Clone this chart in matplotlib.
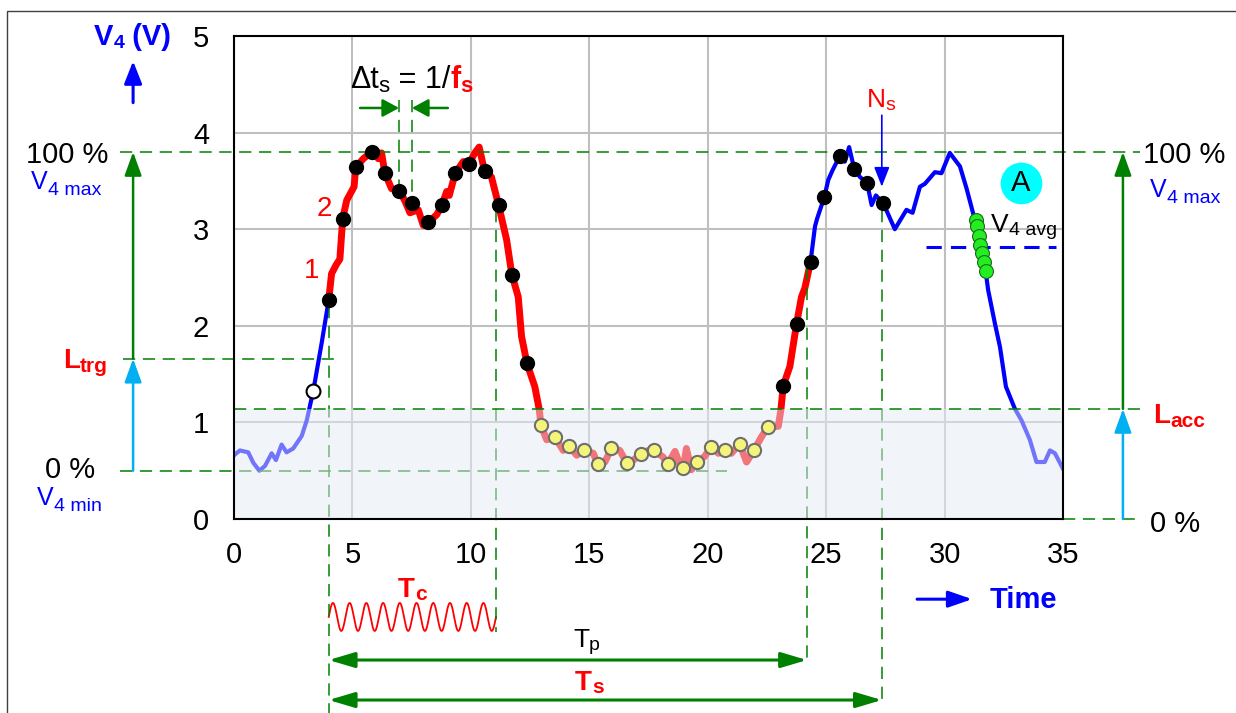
import matplotlib
matplotlib.use('Agg')
import matplotlib.pyplot as plt
import numpy as np
from matplotlib.patches import Rectangle

plt.rcParams['font.family'] = ['Liberation Sans', 'DejaVu Sans']

# signal trace V4 (V) vs time
trace_t = [0.00, 0.25, 0.60, 0.82, 1.07, 1.31, 1.59, 1.77, 2.01, 2.22, 2.50, 2.86, 3.07, 3.17,
           3.35, 3.70, 4.00, 4.12, 4.31, 4.47, 4.59, 4.76, 5.07, 5.14, 5.46, 5.81, 6.02, 6.09,
           6.23, 6.37, 6.65, 6.98, 7.22, 7.43, 7.78, 7.99, 8.20, 8.56, 8.78, 8.98, 9.09, 9.34,
           9.68, 9.92, 10.17, 10.35, 10.58, 10.87, 11.17, 11.51, 11.73, 12.00, 12.14, 12.37,
           12.70, 12.89, 12.96, 13.20, 13.54, 13.90, 14.13, 14.47, 14.79, 15.17, 15.35, 15.66,
           15.93, 16.29, 16.58, 16.86, 17.17, 17.49, 17.73, 18.12, 18.32, 18.62, 18.80, 18.97,
           19.10, 19.31, 19.56, 19.88, 20.14, 20.45, 20.73, 21.00, 21.35, 21.64, 21.95, 22.27,
           22.53, 22.98, 23.09, 23.19, 23.47, 23.75, 23.96, 24.10, 24.34, 24.53, 24.62, 24.92,
           25.09, 25.27, 25.58, 25.79, 25.97, 26.19, 26.43, 26.73, 26.92, 27.10, 27.41, 27.90,
           28.39, 28.65, 28.96, 29.17, 29.59, 29.87, 30.22, 30.65, 30.93, 31.21, 31.32, 31.73,
           31.84, 32.12, 32.34, 32.59, 32.97, 33.25, 33.60, 33.88, 34.23, 34.45, 34.66, 35.00]
trace_v = [0.66, 0.71, 0.69, 0.58, 0.50, 0.55, 0.68, 0.61, 0.77, 0.69, 0.73, 0.86, 1.02, 1.13,
           1.33, 1.82, 2.27, 2.54, 2.63, 2.69, 3.11, 3.30, 3.44, 3.64, 3.73, 3.80, 3.81, 3.73,
           3.79, 3.58, 3.42, 3.40, 3.29, 3.17, 3.20, 3.04, 3.07, 3.15, 3.25, 3.39, 3.35, 3.58,
           3.70, 3.68, 3.79, 3.85, 3.60, 3.54, 3.25, 2.89, 2.53, 2.30, 1.89, 1.61,
           1.37, 1.13, 0.97, 0.82, 0.85, 0.71, 0.76, 0.66, 0.71, 0.68, 0.57, 0.59,
           0.73, 0.71, 0.58, 0.61, 0.67, 0.71, 0.71, 0.64, 0.57, 0.70, 0.58, 0.53,
           0.73, 0.51, 0.59, 0.65, 0.75, 0.68, 0.71, 0.68, 0.78, 0.59, 0.71, 0.85,
           0.95, 0.96, 1.13, 1.38, 1.58, 2.02, 2.30, 2.39, 2.66, 3.03, 3.11, 3.33,
           3.51, 3.61, 3.76, 3.70, 3.85, 3.62, 3.54, 3.48, 3.25, 3.35, 3.27, 3.00,
           3.20, 3.17, 3.44, 3.47, 3.59, 3.58, 3.79, 3.65, 3.42, 3.16, 3.10, 2.57,
           2.37, 2.03, 1.78, 1.37, 1.14, 1.02, 0.82, 0.59, 0.59, 0.71, 0.68, 0.52]

# samples above the acceptance level (first capture)
hi_t = [4.00, 4.59, 5.14, 5.81, 6.37, 6.98, 7.51, 8.20, 8.78, 9.34, 9.92, 10.58, 11.17, 11.73, 12.37]
hi_v = [2.27, 3.11, 3.64, 3.80, 3.58, 3.40, 3.27, 3.07, 3.25, 3.58, 3.68, 3.60, 3.25, 2.53, 1.61]
# samples below the acceptance level
lo_t = [12.96, 13.54, 14.13, 14.79, 15.35, 15.93, 16.58, 17.17, 17.73, 18.32, 18.97, 19.56,
        20.14, 20.73, 21.35, 21.95, 22.53]
lo_v = [0.97, 0.85, 0.76, 0.71, 0.57, 0.73, 0.58, 0.67, 0.71, 0.57, 0.53, 0.59,
        0.75, 0.71, 0.78, 0.71, 0.95]
# samples on the next rise
rise_t = [23.19, 23.78, 24.34, 24.92, 25.58, 26.19, 26.73, 27.41]
rise_v = [1.38, 2.02, 2.66, 3.33, 3.76, 3.62, 3.48, 3.27]
# averaging samples
avg_t = [31.32, 31.39, 31.45, 31.49, 31.57, 31.66, 31.73]
avg_v = [3.10, 3.03, 2.93, 2.84, 2.75, 2.66, 2.57]
# trigger point
trig_t, trig_v = 3.35, 1.33

# levels
V_MAX = 3.80
V_MIN = 0.50
L_TRG = 1.66
L_ACC = 1.14
V_AVG = 2.82

# time marks
T_START = 4.00
RED_END = 24.34
TC_END = 11.06
TP_END = 24.19
TS_END = 27.35
DT_A, DT_B = 6.97, 7.51
TC_CYCLES = 10

GREEN = '#008000'
CYAN = '#00b0f0'
BLUE = '#0000ff'
RED = '#ff0000'
DASH = (0, (8, 5))

fig = plt.figure(figsize=(12.36, 7.13), dpi=100)
ax = fig.add_axes([234 / 1236, 1 - 519 / 713, 829 / 1236, 483 / 713])
ax.set_xlim(0, 35)
ax.set_ylim(0, 5)
ax.set_xticks(range(0, 36, 5))
ax.set_yticks(range(0, 6))
ax.tick_params(length=0, labelsize=21)
ax.tick_params(axis='x', pad=16)
ax.tick_params(axis='y', pad=18)
ax.grid(color='#bfbfbf', lw=1.5)
ax.set_axisbelow(True)
for s in ax.spines.values():
    s.set_linewidth(1.5)
    s.set_zorder(8)

fig.add_artist(Rectangle((7 / 1236, -0.05), 1.1, 1.05 - 11 / 713, transform=fig.transFigure,
                         fill=False, ec='#404040', lw=1))

t = np.array(trace_t)
v = np.array(trace_v)
red = (t >= T_START) & (t <= RED_END)
ax.plot(t, v, color=BLUE, lw=3, zorder=3, solid_joinstyle='round')
ax.plot(t[red], v[red], color=RED, lw=5, zorder=3.2, solid_joinstyle='round')

# shaded band below the acceptance level (lightens what is underneath)
ax.add_patch(Rectangle((0, 0), 35, L_ACC, facecolor=(229 / 255, 235 / 255, 245 / 255),
                       alpha=0.5, lw=0, zorder=4))


def hline(y, x0, x1, z=3.5):
    ax.plot([x0, x1], [y, y], color=GREEN, lw=1.1, ls=DASH, clip_on=False, zorder=z)


def vline(x, y0, y1, z=3.5):
    ax.plot([x, x], [y0, y1], color=GREEN, lw=1.1, ls=DASH, clip_on=False, zorder=z)


hline(V_MAX, -4.81, 38.25, z=5)
hline(V_MIN, -4.81, 20.8)
hline(L_TRG, -4.69, 4.47)
hline(L_ACC, 0, 38.25, z=5)
hline(0, 35, 38.25, z=5)
vline(T_START, 2.2, -2.1)
vline(TC_END, 3.2, -1.17)
vline(TP_END, 2.6, -1.49)
vline(TS_END, 3.2, -1.93)
vline(DT_A, 4.34, 3.40, z=6)
vline(DT_B, 4.34, 3.27, z=6)

ax.plot([29.2, 34.7], [V_AVG, V_AVG], color=BLUE, lw=2.2, ls=(0, (5, 3)), zorder=5)

ax.plot(hi_t + rise_t, hi_v + rise_v, 'o', ms=10, mfc='black', mec='black', zorder=7)
ax.plot(lo_t, lo_v, 'o', ms=9.5, mfc='#f4f47a', mec='#6e6e6e', mew=1.5, zorder=7)
ax.plot(avg_t, avg_v, 'o', ms=10, mfc='#22ee22', mec='#1a6a1a', mew=0.8, zorder=7)
ax.plot([trig_t], [trig_v], 'o', ms=10, mfc='white', mec='black', mew=1.5, zorder=7)


def arrow(x0, y0, x1, y1, color, lw, hl, hw, style='-|>'):
    ax.annotate('', xy=(x1, y1), xytext=(x0, y0), annotation_clip=False,
                arrowprops=dict(arrowstyle=f'{style},head_length={hl},head_width={hw}',
                                color=color, lw=lw, shrinkA=0, shrinkB=0), zorder=6)


arrow(-4.26, 4.31, -4.26, 4.74, BLUE, 2.2, 1.37, 0.54)
arrow(-4.26, L_TRG, -4.26, V_MAX, GREEN, 1.8, 1.44, 0.52)
arrow(-4.26, V_MIN, -4.26, L_TRG, CYAN, 1.8, 1.44, 0.52)
arrow(37.53, L_ACC, 37.53, V_MAX, GREEN, 1.8, 1.44, 0.52)
arrow(37.53, 0, 37.53, L_ACC, CYAN, 1.8, 1.44, 0.52)
arrow(5.32, 4.255, DT_A, 4.255, GREEN, 1.8, 1.0, 0.54)
arrow(9.03, 4.255, DT_B, 4.255, GREEN, 1.8, 1.0, 0.54)
arrow(TS_END, 4.18, TS_END, 3.44, BLUE, 1.2, 1.2, 0.47)
arrow(28.84, -0.83, 31.16, -0.83, BLUE, 2.2, 1.44, 0.5)
arrow(T_START, -1.46, TP_END, -1.46, GREEN, 2.2, 1.58, 0.47, style='<|-|>')
arrow(T_START, -1.874, TS_END, -1.874, GREEN, 2.2, 1.58, 0.47, style='<|-|>')

# Tc clock symbol
wt = np.linspace(T_START, TC_END, 400)
ax.plot(wt, -1.014 + 0.145 * np.sin(2 * np.pi * TC_CYCLES * (wt - T_START) / (TC_END - T_START)),
        color=RED, lw=1.3, clip_on=False)

# cyan "A" badge
ax.plot([33.23], [3.478], 'o', ms=30, mfc='#00ffff', mec='none', zorder=6)
ax.text(33.23, 3.478, 'A', fontsize=21, ha='center', va='center', zorder=7)


def rich(x, y, parts):
    prev = None
    for txt, size, color, weight, drop in parts:
        if prev is None:
            prev = ax.annotate(txt, xy=(x, y), xytext=(0, -drop), textcoords='offset points',
                               fontsize=size, color=color, fontweight=weight, va='baseline',
                               ha='left', annotation_clip=False, zorder=7)
        else:
            prev = ax.annotate(txt, xy=(1, y), xycoords=(prev, 'data'), xytext=(0, -drop),
                               textcoords='offset points', fontsize=size, color=color,
                               fontweight=weight, va='baseline', ha='left',
                               annotation_clip=False, zorder=7)


rich(-5.91, 4.907, [('V', 21, BLUE, 'bold', 0), ('4', 14, BLUE, 'bold', 2), (' (V)', 21, BLUE, 'bold', 0)])
rich(4.90, 4.462, [('\u0394t', 22, 'black', 'normal', 0), ('s', 16, 'black', 'normal', 3),
                   (' = 1/', 22, 'black', 'normal', 0), ('f', 22, RED, 'bold', 0),
                   ('s', 16, RED, 'bold', 3)])
rich(26.72, 4.265, [('N', 19, RED, 'normal', 0), ('s', 14, RED, 'normal', 2)])
rich(31.96, 2.971, [('V', 19, 'black', 'normal', 0), ('4 avg', 14, 'black', 'normal', 2)])

ax.text(-5.32, 3.685, '100 %', fontsize=21, ha='right', va='baseline')
rich(-8.57, 3.416, [('V', 18, BLUE, 'normal', 0), ('4 max', 14, BLUE, 'normal', 4)])
rich(-7.22, 1.563, [('L', 20, RED, 'bold', 0), ('trg', 15, RED, 'bold', 3)])
ax.text(-7.98, 0.424, '0 %', fontsize=21, ha='left', va='baseline')
rich(-8.32, 0.145, [('V', 18, BLUE, 'normal', 0), ('4 min', 14, BLUE, 'normal', 4)])

ax.text(38.38, 3.685, '100 %', fontsize=21, ha='left', va='baseline')
rich(38.67, 3.333, [('V', 18, BLUE, 'normal', 0), ('4 max', 14, BLUE, 'normal', 4)])
rich(38.80, 0.994, [('L', 20, RED, 'bold', 0), ('acc', 15, RED, 'bold', 3)])
ax.text(38.67, -0.135, '0 %', fontsize=21, ha='left', va='baseline')

ax.text(3.29, 2.567, '1', fontsize=20, color=RED, ha='center', va='center')
ax.text(3.80, 3.209, '2', fontsize=20, color=RED, ha='center', va='center')

rich(6.92, -0.807, [('T', 20, RED, 'bold', 0), ('c', 15, RED, 'bold', 2)])
rich(14.31, -1.325, [('T', 19, 'black', 'normal', 0), ('p', 14, 'black', 'normal', 2)])
rich(14.40, -1.770, [('T', 20, RED, 'bold', 0), ('s', 15, RED, 'bold', 2)])
ax.text(31.92, -0.921, 'Time', fontsize=21, color=BLUE, fontweight='bold', va='baseline')

fig.savefig('out.png', dpi=100)
